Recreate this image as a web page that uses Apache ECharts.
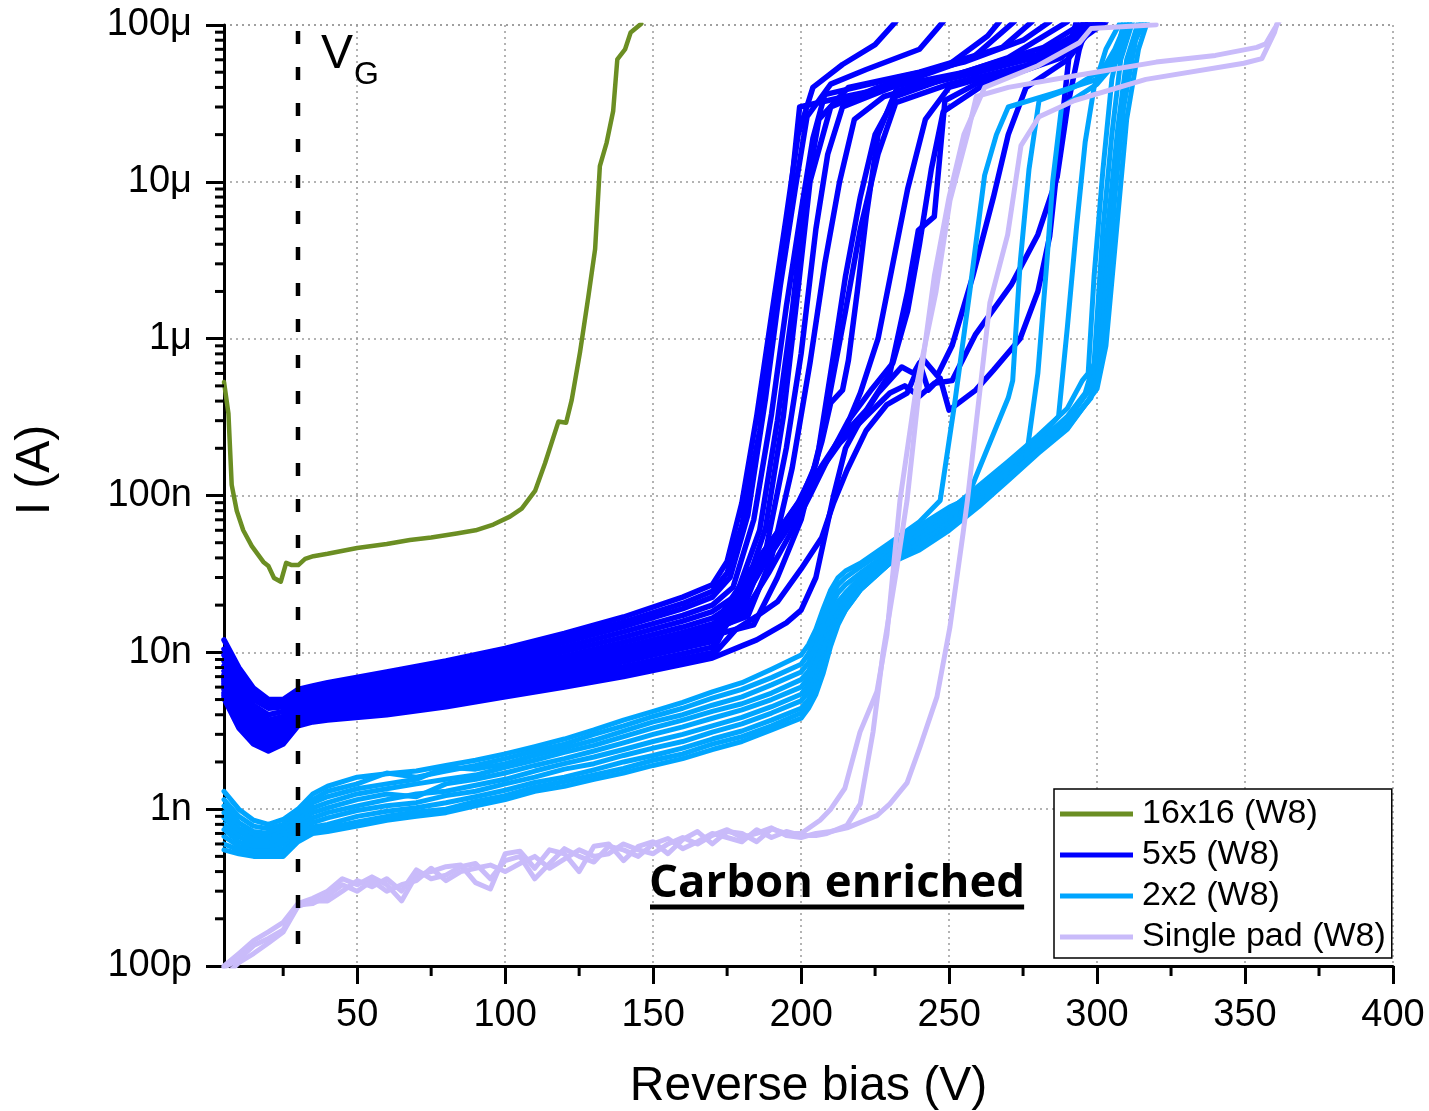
<!DOCTYPE html>
<html>
<head>
<meta charset="utf-8">
<script src="https://cdn.jsdelivr.net/npm/echarts@6/dist/echarts.min.js"></script>
<style>
  html, body { margin: 0; padding: 0; background: #fff; }
  #chart { width: 1429px; height: 1111px; }
</style>
</head>
<body>
<div id="chart"></div>
<script>
// ---------------- axes ----------------
const X_MIN = 5, X_MAX = 400;
const Y_MIN = 1e-10, Y_MAX = 1e-4;
const X_MAJOR = [50, 100, 150, 200, 250, 300, 350, 400];
const X_MINOR = [25, 75, 125, 175, 225, 275, 325, 375];
const Y_TICK_LABELS = ['100p', '1n', '10n', '100n', '1\u03bc', '10\u03bc', '100\u03bc']; // 1e-10 .. 1e-4
const V_GATE = 30;

const NAMES = ['16x16 (W8)', '5x5 (W8)', '2x2 (W8)', 'Single pad (W8)'];
const COLORS = ['#6B8E23', '#0000FF', '#00A5FF', '#C9BBFA'];

// ---------------- 16x16 pad: [V, nA] ----------------
const IV_16X16 = [[5,530],[6.5,333],[7.6,117],[9.3,80],[11.5,60],[14.4,47.6],[18.3,37.7],[20,35.5],
  [21.9,29.8],[24.2,28.2],[26,37.2],[27.9,36],[30.1,36],[32.4,39.4],[35.2,41],[40,42.5],[50,46.3],
  [60,49],[67.8,52],[75,54],[83.6,57.2],[90,60],[96,65.3],[101.6,73.3],[105.6,82.4],[110.1,107],
  [113.5,161],[118,296],[120.6,291],[122.5,407],[125.3,822],[128.1,1845],[130.4,3730],[132,12600],
  [134.3,17800],[136.5,28300],[137.9,60400],[140.5,69800],[142.4,89500],[146,102000]];

// ---------------- 5x5 pads: currents in nA ----------------
const V_5X5 = [5, 10, 15, 20, 25, 30, 35, 40, 60, 80, 100, 120, 140, 160, 170];
const I_5X5 = [
  [12, 8.0, 5.9, 5.0, 5.0, 5.8, 6.1, 6.4, 7.5, 8.8, 10.6, 13.2, 16.8, 22.5, 27],
  [10.5, 7.2, 5.4, 4.7, 4.7, 5.5, 5.8, 6.1, 7.1, 8.3, 10.0, 12.4, 15.6, 20.5, 24.5],
  [9.6, 6.6, 5.0, 4.4, 4.5, 5.3, 5.6, 5.8, 6.8, 7.9, 9.4, 11.6, 14.6, 19.0, 22.5],
  [8.8, 6.0, 4.6, 4.0, 4.2, 5.0, 5.3, 5.5, 6.4, 7.4, 8.8, 10.8, 13.5, 17.2, 20.0],
  [8.2, 5.6, 4.3, 3.7, 3.9, 4.8, 5.1, 5.3, 6.1, 7.0, 8.3, 10.1, 12.5, 15.8, 18.2],
  [7.6, 5.2, 4.0, 3.5, 3.7, 4.6, 4.9, 5.1, 5.8, 6.6, 7.8, 9.4, 11.6, 14.5, 16.5],
  [7.2, 4.9, 3.7, 3.3, 3.5, 4.4, 4.7, 4.9, 5.5, 6.3, 7.4, 8.9, 10.8, 13.4, 15.2],
  [6.8, 4.6, 3.5, 3.1, 3.3, 4.2, 4.5, 4.7, 5.3, 6.0, 7.0, 8.4, 10.1, 12.4, 14.0],
  [6.5, 4.3, 3.3, 2.9, 3.1, 4.0, 4.3, 4.5, 5.0, 5.7, 6.6, 7.8, 9.4, 11.5, 12.8],
  [6.1, 4.0, 3.1, 2.75, 3.0, 3.8, 4.1, 4.3, 4.8, 5.4, 6.2, 7.3, 8.7, 10.6, 11.7],
  [5.8, 3.8, 2.9, 2.6, 2.85, 3.7, 3.95, 4.1, 4.6, 5.1, 5.9, 6.9, 8.1, 9.8, 10.8],
  [5.5, 3.6, 2.8, 2.5, 2.75, 3.55, 3.8, 3.95, 4.4, 4.9, 5.6, 6.5, 7.6, 9.1, 10.0],
  [5.3, 3.4, 2.7, 2.4, 2.65, 3.45, 3.7, 3.8, 4.2, 4.7, 5.3, 6.2, 7.2, 8.6, 9.5],
  [5.1, 3.3, 2.6, 2.35, 2.6, 3.4, 3.6, 3.7, 4.0, 4.5, 5.2, 6.0, 7.0, 8.4, 9.2],
  [6.3, 4.2, 3.2, 2.85, 3.05, 3.9, 4.2, 4.4, 4.9, 5.55, 6.4, 7.6, 9.1, 11.1, 12.3],
  [7.0, 4.7, 3.6, 3.2, 3.4, 4.3, 4.6, 4.8, 5.4, 6.1, 7.2, 8.6, 10.4, 12.9, 14.6],
  [6.7, 4.5, 3.4, 3.0, 3.2, 4.1, 4.4, 4.6, 5.1, 5.8, 6.8, 8.1, 9.8, 12.0, 13.4]
];
// breakdown part of each 5x5 curve: [V, nA]
const TAIL_5X5 = [
  [[175,38],[180,90],[185,320],[190,1400],[195,6000],[199,20000],[204,40000],[214,56000],[225,75000],[232,105000]],
  [[175,32],[180,65],[186,260],[191,1500],[196,7000],[199.5,30000],[215,35000],[235,42000],[260,52000],[280,65000],[292,85000],[298,105000]],
  [[176,30],[182,75],[188,420],[193,2200],[198,9000],[202,26000],[210,42000],[222,52000],[240,70000],[248,105000]],
  [[177,26],[184,70],[190,330],[195,1600],[200,6500],[204,19000],[208,36000],[230,45000],[255,58000],[275,80000],[284,105000]],
  [[178,23],[186,60],[192,300],[197,1500],[201,7000],[206,25000],[216,40000],[240,50000],[268,72000],[278,105000]],
  [[180,22],[188,62],[194,320],[199,2100],[203,10000],[210,30000],[226,40000],[250,56000],[263,85000],[267,105000]],
  [[180,18],[188,44],[195,200],[200,800],[205,5000],[209,15000],[214,30000],[236,44000],[258,62000],[272,105000]],
  [[182,17],[190,40],[197,150],[203,700],[208,3000],[213,10000],[218,25000],[228,35000],[248,45000],[270,62000],[290,105000]],
  [[184,15],[192,30],[200,70],[206,200],[211,800],[215,2500],[220,8000],[225,20000],[232,35000],[255,50000],[282,72000],[296,105000]],
  [[175,20],[185,38],[193,62],[200,95],[205,160],[208,300],[211,600],[215,1500],[220,5000],[226,15000],[232,32000],[250,42000],[276,55000],[300,105000]],
  [[176,19],[185,36],[193,58],[200,90],[206,145],[213,230],[222,350],[230,600],[236,2000],[239.6,4900],[245,6000],[248.6,33000],[262,45000],[285,62000],[296,105000]],
  [[177,18],[186,34],[194,56],[200,85],[206,140],[213,215],[222,320],[230,450],[235,500],[240,430],[245,520],[251,540],[259,1070],[271,2200],[280,4600],[286.5,10700],[290,30000],[294,70000],[297,105000]],
  [[178,14],[185,17],[192,21],[200,34],[207,54],[211,90],[215.5,145],[222,260],[229,380],[235.8,450],[241,750],[246,580],[251,900],[258,2500],[265,8000],[270,20000],[276,40000],[290,60000],[300,105000]],
  [[180,11],[185,12],[190,13.6],[195,15.4],[200,18.6],[205,30],[208,55],[211,100],[215,200],[220,300],[226,450],[234,660],[238,600],[240,700],[243,470],[247,560],[250,350],[259,470],[265,630],[274,1000],[280,2000],[284,4500],[287,15000],[291,77000],[293,105000]],
  [[178,18],[187,35],[195,60],[201,95],[207,150],[214,240],[220,450],[226,1000],[231,3000],[236,9000],[242,25000],[250,40000],[280,58000],[302,105000]],
  [[176,21],[184,36],[192,58],[199,90],[204,140],[207,220],[210,390],[214,470],[216,730],[219,2000],[222,6000],[226,20000],[232,38000],[260,50000],[290,70000],[303,105000]],
  [[180,17],[189,32],[197,60],[203,100],[209,170],[216,300],[224,480],[231,700],[236,1500],[240,4000],[244,12000],[248,28000],[262,42000],[288,62000],[301,105000]]
];

// ---------------- 2x2 pads: currents in nA ----------------
const V_2X2 = [5, 10, 15, 20, 25, 30, 35, 40, 50, 60, 70, 80, 90, 100, 110, 120, 130, 140, 150, 160, 170, 180, 190, 200];
const I_2X2 = [
  [1.3, 1.0, 0.85, 0.8, 0.86, 1.0, 1.25, 1.4, 1.6, 1.68, 1.75, 1.9, 2.05, 2.25, 2.5, 2.8, 3.2, 3.7, 4.2, 4.8, 5.6, 6.4, 7.8, 9.6],
  [1.15, 0.9, 0.78, 0.75, 0.8, 0.95, 1.15, 1.3, 1.45, 1.7, 1.6, 1.75, 1.9, 2.1, 2.35, 2.6, 3.0, 3.4, 3.9, 4.4, 5.1, 5.8, 6.9, 8.4],
  [1.05, 0.82, 0.72, 0.7, 0.76, 0.9, 1.1, 1.2, 1.35, 1.45, 1.55, 1.85, 1.8, 1.95, 2.2, 2.45, 2.75, 3.15, 3.6, 4.0, 4.6, 5.2, 6.2, 7.5],
  [0.95, 0.76, 0.68, 0.66, 0.72, 0.85, 1.02, 1.1, 1.25, 1.35, 1.45, 1.55, 1.65, 1.85, 2.05, 2.3, 2.55, 2.9, 3.3, 3.7, 4.2, 4.7, 5.5, 6.7],
  [0.88, 0.72, 0.64, 0.63, 0.68, 0.8, 0.95, 1.02, 1.15, 1.25, 1.2, 1.45, 1.55, 1.7, 1.9, 2.1, 2.35, 2.65, 3.0, 3.35, 3.8, 4.3, 5.0, 6.0],
  [0.8, 0.67, 0.6, 0.6, 0.64, 0.76, 0.88, 0.95, 1.05, 1.15, 1.25, 1.3, 1.42, 1.55, 1.75, 1.95, 2.15, 2.4, 2.7, 3.0, 3.4, 3.85, 4.5, 5.4],
  [0.74, 0.62, 0.57, 0.57, 0.6, 0.72, 0.82, 0.88, 0.98, 1.05, 1.1, 1.22, 1.3, 1.45, 1.6, 1.8, 1.95, 2.2, 2.45, 2.7, 3.1, 3.5, 4.1, 4.9],
  [0.67, 0.58, 0.54, 0.54, 0.56, 0.68, 0.77, 0.8, 0.9, 0.97, 1.02, 1.1, 1.2, 1.32, 1.48, 1.6, 1.78, 2.0, 2.2, 2.45, 2.8, 3.15, 3.7, 4.4],
  [0.6, 0.55, 0.52, 0.52, 0.53, 0.65, 0.73, 0.76, 0.83, 0.9, 0.96, 1.0, 1.12, 1.22, 1.38, 1.5, 1.65, 1.82, 2.05, 2.25, 2.6, 2.9, 3.4, 4.1],
  [0.55, 0.52, 0.5, 0.5, 0.5, 0.62, 0.7, 0.72, 0.78, 0.85, 0.9, 0.95, 1.05, 1.15, 1.3, 1.4, 1.55, 1.7, 1.9, 2.1, 2.4, 2.7, 3.2, 3.8]
];
const TAIL_2X2 = [
  [[202.5,11.2],[205,14],[207.5,19],[210,25],[212.5,30],[215,33],[220,37],[230,50],[240,68],[247,93],[252,400],[257,2000],[262,11000],[266,20000],[270,30000],[286,37000],[300,45000],[306,70000],[310,105000]],
  [[202.5,9.8],[205,12.5],[207.5,17],[210,22],[212.5,27],[215,30],[220,35],[230,47],[240,64],[250,84],[256,95],[263,200],[270,420],[271.5,540],[274,3000],[277,12000],[280.4,33000],[292,40000],[304,55000],[311,105000]],
  [[202.5,8.6],[205,11],[207.5,15],[210,19.5],[212.5,24],[215,27],[220,32],[230,44],[240,60],[250,80],[260,115],[270,165],[280,240],[290,360],[295,540],[297,600],[299,2500],[302,12000],[305,45000],[309,105000]],
  [[202.5,7.6],[205,9.5],[207.5,13],[210,17],[212.5,21],[215,24],[220,30],[230,42],[240,56],[250,75],[260,108],[270,155],[280,225],[287,320],[290,1200],[293,5000],[296,18000],[299,40000],[303,70000],[308,105000]],
  [[202.5,6.9],[205,8.6],[207.5,11.5],[210,15],[212.5,19],[215,22],[220,28],[230,40],[240,53],[250,72],[260,100],[270,148],[280,215],[290,320],[296,450],[299,700],[302,5000],[305,20000],[308,60000],[312,105000]],
  [[202.5,6.2],[205,7.8],[207.5,10.5],[210,14],[212.5,18],[215,21],[220,27],[230,39],[240,50],[250,68],[260,96],[270,140],[280,205],[290,300],[297,460],[300,650],[303,4000],[307,22000],[310,60000],[314,105000]],
  [[202.5,5.6],[205,7],[207.5,9.5],[210,13],[212.5,17],[215,20],[220,26],[230,38],[240,49],[250,66],[260,93],[270,135],[276,170],[280,600],[283,3000],[285,10000],[288,30000],[300,42000],[307,60000],[311,105000]],
  [[202.5,5.0],[205,6.3],[207.5,8.6],[210,12],[212.5,16],[215,19],[220,26],[230,37],[240,47],[250,63],[260,90],[270,130],[280,195],[290,280],[298,420],[301,700],[304,4000],[308,25000],[312,70000],[315,105000]],
  [[202.5,4.7],[205,5.8],[207.5,8],[210,11.5],[212.5,15.5],[215,18.6],[220,25],[230,37],[240,46],[250,61],[260,88],[270,128],[280,190],[290,270],[297,400],[300,520],[303,1200],[306,8000],[309,30000],[313,80000],[316,105000]],
  [[202.5,4.4],[205,5.4],[207.5,7.4],[210,11],[212.5,15],[215,18.6],[220,25],[230,37],[240,45],[250,60],[260,85],[270,125],[280,185],[290,265],[296,380],[300,480],[303,900],[307,6000],[310,25000],[314,70000],[317,105000]]
];

// ---------------- single pads: currents in nA ----------------
const V_PAD = [5,10,15,20,25,30,35,40,45,50,55,60,65,70,75,80,85,90,95,100,
  105,110,115,120,125,130,135,140,145,150,155,160,165,170,175,180,185,190,195,200];
const I_PAD = [
  [0.10,0.12,0.145,0.165,0.19,0.25,0.27,0.30,0.36,0.33,0.37,0.33,0.26,0.38,0.40,0.43,0.44,0.34,0.31,0.52,
   0.54,0.42,0.55,0.52,0.40,0.58,0.60,0.47,0.58,0.62,0.52,0.64,0.72,0.60,0.72,0.70,0.62,0.75,0.70,0.70],
  [0.085,0.105,0.12,0.14,0.165,0.24,0.26,0.26,0.30,0.35,0.32,0.36,0.30,0.41,0.36,0.38,0.43,0.45,0.36,0.47,
   0.50,0.36,0.45,0.56,0.50,0.46,0.58,0.55,0.50,0.60,0.65,0.56,0.62,0.70,0.66,0.62,0.74,0.66,0.72,0.68],
  [0.098,0.11,0.135,0.15,0.17,0.245,0.25,0.28,0.33,0.30,0.35,0.30,0.33,0.35,0.42,0.35,0.40,0.42,0.44,0.40,
   0.45,0.50,0.42,0.48,0.55,0.50,0.52,0.60,0.55,0.52,0.60,0.66,0.60,0.68,0.74,0.66,0.70,0.76,0.68,0.66]
];
const TAIL_PAD = [
  [[206.4,0.85],[210,1.0],[214.8,1.36],[219.9,3.1],[225.6,5.6],[229,13],[233.4,93],[239,500],[245.6,2000],[250.3,7600],[256.2,20000],[259.2,35000],[270,40000],[294,48000],[320,58000],[340,64000],[354,72000],[357,76000],[360,95000],[361.5,105000]],
  [[205,0.68],[208.7,0.7],[215.5,0.79],[220,1.08],[224.3,3.1],[227.7,10],[232.4,35],[235.8,93],[240,500],[245,2500],[250,8000],[255,20000],[262,40000],[280,55000],[294,77000],[298,95000],[320,100500]],
  [[205,0.7],[210,0.72],[215.5,0.76],[225.6,0.91],[230,1.08],[235.8,1.47],[240.2,2.5],[245.9,5.2],[250.3,14.5],[254.7,57],[256.2,93],[263.8,1700],[269.8,4600],[274.3,17000],[280.4,26000],[292.4,33000],[316.5,45000],[349.6,57000],[355.7,61000],[360,90000],[361,105000]]
];

// ---------------- build ----------------
const NANO = 1e-9;
function toAmps(pairs) { return pairs.map(p => [p[0], p[1] * NANO]); }
function joinCurve(vs, lo, tail) {
  return vs.map((v, i) => [v, lo[i] * NANO]).concat(toAmps(tail));
}
function lineSeries(groupIdx, data, width) {
  return {
    type: 'line', name: NAMES[groupIdx], data: data,
    symbol: 'none', showSymbol: false, clip: true, silent: true,
    lineStyle: { color: COLORS[groupIdx], width: width, join: 'round', cap: 'round' },
    itemStyle: { color: COLORS[groupIdx] },
    z: 2 + groupIdx * 0.01
  };
}

const series = [];
series.push(lineSeries(0, toAmps(IV_16X16), 4.5));
I_5X5.forEach((lo, k) => series.push(lineSeries(1, joinCurve(V_5X5, lo, TAIL_5X5[k]), 5.5)));
I_2X2.forEach((lo, k) => series.push(lineSeries(2, joinCurve(V_2X2, lo, TAIL_2X2[k]), 5)));
I_PAD.forEach((lo, k) => series.push(lineSeries(3, joinCurve(V_PAD, lo, TAIL_PAD[k]), 5)));

// gate voltage marker
series.push({
  type: 'line', data: [[V_GATE, Y_MAX], [V_GATE, Y_MIN]], symbol: 'none', silent: true,
  lineStyle: { color: '#000', width: 4.5, type: [13, 23], dashOffset: 30 }, z: 4
});

// log minor ticks (2..9 per decade) on the current axis
const Y_MINOR = [];
for (let e = -10; e < -4; e++) for (let m = 2; m <= 9; m++) Y_MINOR.push(m * Math.pow(10, e));
series.push({
  type: 'custom', clip: false, silent: true, z: 6,
  data: Y_MINOR.map(v => [X_MIN, v]),
  renderItem: (params, api) => {
    const p = api.coord([api.value(0), api.value(1)]);
    return { type: 'line', shape: { x1: p[0] - 9, y1: p[1], x2: p[0], y2: p[1] },
      style: { stroke: '#000', lineWidth: 3 } };
  }
});
// minor ticks on the bias axis
series.push({
  type: 'custom', clip: false, silent: true, z: 6,
  data: X_MINOR.map(v => [v, Y_MIN]),
  renderItem: (params, api) => {
    const p = api.coord([api.value(0), api.value(1)]);
    return { type: 'line', shape: { x1: p[0], y1: p[1], x2: p[0], y2: p[1] + 10 },
      style: { stroke: '#000', lineWidth: 3 } };
  }
});

const FONT = '"Liberation Sans", Arial, sans-serif';
const gridLine = { show: true, lineStyle: { color: '#9a9a9a', width: 1.5, type: [2, 4] } };

// underline length follows the rendered text width
const NOTE_FONT = 'bold 45.5px "Open Sans"';
const measureCtx = document.createElement('canvas').getContext('2d');
measureCtx.font = NOTE_FONT;
const noteWidth = measureCtx.measureText('Carbon enriched').width;

const option = {
  animation: false,
  backgroundColor: '#fff',
  textStyle: { fontFamily: FONT },
  grid: { left: 224, top: 25, width: 1169, height: 941, containLabel: false, outerBoundsMode: 'none' },
  xAxis: {
    type: 'value', min: X_MIN, max: X_MAX,
    name: 'Reverse bias (V)', nameLocation: 'middle', nameGap: 97, nameMoveOverlap: false,
    nameTextStyle: { fontSize: 48, color: '#000', fontFamily: FONT },
    axisLine: { show: true, onZero: false, lineStyle: { color: '#000', width: 3 } },
    axisTick: { show: true, customValues: X_MAJOR, length: 18, lineStyle: { color: '#000', width: 3 } },
    axisLabel: { customValues: X_MAJOR, fontSize: 38, color: '#000', margin: 31, fontFamily: FONT },
    splitLine: gridLine
  },
  yAxis: {
    type: 'log', logBase: 10, min: Y_MIN, max: Y_MAX, splitNumber: 6,
    name: 'I (A)', nameLocation: 'middle', nameGap: 164, nameMoveOverlap: false,
    nameTextStyle: { fontSize: 48, color: '#000', fontFamily: FONT, padding: [0, 0, 0, 51] },
    axisLine: { show: true, onZero: false, lineStyle: { color: '#000', width: 3 } },
    axisTick: { show: true, length: 18, lineStyle: { color: '#000', width: 3 } },
    axisLabel: {
      fontSize: 38, color: '#000', margin: 32, fontFamily: FONT,
      formatter: v => Y_TICK_LABELS[Math.round(Math.log10(v)) + 10] || ''
    },
    splitLine: gridLine
  },
  legend: {
    data: NAMES, orient: 'vertical', left: 1054, top: 789,
    icon: 'rect', itemWidth: 73, itemHeight: 5, itemGap: 5,
    padding: [7, 6, 3, 6], borderColor: '#000', borderWidth: 1.5, backgroundColor: '#fff',
    selectedMode: false,
    textStyle: { fontSize: 34, color: '#000', fontFamily: FONT, lineHeight: 36, padding: [0, 0, 0, 4] }
  },
  graphic: [
    { type: 'text', x: 321, y: 55, z: 20,
      style: { text: 'V', font: '48px ' + FONT, fill: '#000', align: 'left', verticalAlign: 'middle' } },
    { type: 'text', x: 354, y: 75, z: 20,
      style: { text: 'G', font: '32px ' + FONT, fill: '#000', align: 'left', verticalAlign: 'middle' } },
    { type: 'text', x: 649, y: 884, z: 20,
      style: { text: 'Carbon enriched', font: NOTE_FONT, fill: '#000', align: 'left', verticalAlign: 'middle' } },
    { type: 'rect', z: 20, shape: { x: 650, y: 904.5, width: noteWidth - 2, height: 5 }, style: { fill: '#000' } }
  ],
  series: series
};

const chart = echarts.init(document.getElementById('chart'), null, { renderer: 'canvas', width: 1429, height: 1111 });
chart.setOption(option);
</script>
</body>
</html>
